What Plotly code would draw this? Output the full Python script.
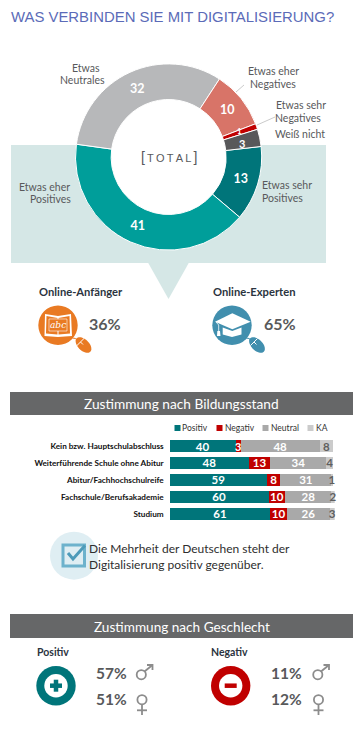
import numpy as np
import plotly.graph_objects as go

W, H = 358, 740

# Donut
donut_labels = ["Etwas sehr Positives", "Etwas eher Positives", "Etwas Neutrales",
                "Etwas eher Negatives", "Etwas sehr Negatives", "Weiß nicht"]
donut_values = [13, 41, 32, 10, 1, 3]
donut_colors = ["#00757A", "#009E9A", "#B7B8BA", "#D87468", "#C00000", "#58585A"]

# Education bars
edu_categories = ["Kein bzw. Hauptschulabschluss", "Weiterführende Schule ohne Abitur",
                  "Abitur/Fachhochschulreife", "Fachschule/Berufsakademie", "Studium"]
edu_positiv = [40, 48, 59, 60, 61]
edu_negativ = [3, 13, 8, 10, 10]
edu_neutral = [48, 34, 31, 28, 26]
edu_ka = [8, 4, 1, 2, 3]
edu_names = ["Positiv", "Negativ", "Neutral", "KA"]
edu_colors = ["#00757A", "#C00000", "#A9A9A9", "#CBCBCB"]
edu_text = ["white", "white", "white", "#5F5F5F"]

# Text values
online_labels = ["Online-Anfänger", "Online-Experten"]
online_values = ["36%", "65%"]
gender_heads = ["Positiv", "Negativ"]
gender_male = ["57%", "11%"]
gender_female = ["51%", "12%"]

FONT = "Lato"
fx = lambda x: x / W
fy = lambda y: 1 - y / H
shapes, annos = [], []


def path_of(pts, close=True):
    s = "M" + " L".join(f"{fx(x):.5f},{fy(y):.5f}" for x, y in pts)
    return s + (" Z" if close else "")


def poly(pts, fill, layer="above"):
    shapes.append(dict(type="path", xref="paper", yref="paper", path=path_of(pts), fillcolor=fill,
                       line=dict(width=0), layer=layer))


def line(pts, color, width=1, layer="above"):
    shapes.append(dict(type="path", xref="paper", yref="paper", path=path_of(pts, False),
                       line=dict(color=color, width=width), layer=layer))


def rect(x0, y0, x1, y1, fill, layer="above"):
    shapes.append(dict(type="rect", xref="paper", yref="paper", x0=fx(x0), x1=fx(x1), y0=fy(y1), y1=fy(y0),
                       fillcolor=fill, line=dict(width=0), layer=layer))


def circle(cx, cy, r, fill=None, stroke=None, width=0, layer="above"):
    shapes.append(dict(type="circle", xref="paper", yref="paper", x0=fx(cx - r), x1=fx(cx + r),
                       y0=fy(cy + r), y1=fy(cy - r), fillcolor=fill or "rgba(0,0,0,0)",
                       line=dict(color=stroke or "rgba(0,0,0,0)", width=width), layer=layer))


def text(x, y, s, size=11, color="#58595B", anchor="left", bold=False, font=FONT, italic=False):
    x = x - 1 if anchor == "left" else x
    annos.append(dict(xref="paper", yref="paper", x=fx(x), y=fy(y), text=f"<b>{s}</b>" if bold else s,
                      showarrow=False, xanchor=anchor, yanchor="middle", align=anchor,
                      font=dict(family=font, size=size, color=color, style="italic" if italic else "normal"),
                      borderpad=0))


def mouse(cx, cy, color):
    t = np.linspace(0, 2 * np.pi, 40)
    a, b = 9.6, 5.6
    c = np.cos(np.pi / 4)
    pts = [(cx + a * np.cos(v) * c - b * np.sin(v) * c, cy + a * np.cos(v) * c + b * np.sin(v) * c) for v in t]
    poly(pts, color)
    line([(cx - 6.5, cy + 0.5), (cx + 0.5, cy - 6.5)], "white", 1)
    line([(cx - 3, cy - 3), (cx - 0.5, cy - 0.5)], "white", 1)
    line([(cx - 11, cy - 7), (cx - 8, cy - 6.5), (cx - 6, cy - 5)], color, 1)


# ---- Title
text(10.5, 17, "WAS VERBINDEN SIE MIT DIGITALISIERUNG?", 14.9, "#5B6BB8", font="Liberation Sans")

# ---- Teal panel under donut
CX, CY, RO, RI = 168.6, 157, 93.1, 57.5
rect(11, 145, 326, 263, "#D5E7E6", "below")
poly([(148, 262.5), (189, 262.5), (168.5, 299)], "#D5E7E6", "below")
circle(CX, CY, RI, "white", layer="below")

# ---- Donut labels
for x, y, s in [(86, 68, "Etwas"), (82, 80.5, "Neutrales"),
                (273, 71.5, "Etwas eher"), (273, 83.5, "Negatives"),
                (301, 105.5, "Etwas sehr"), (298, 118.5, "Negatives"), (300, 134.5, "Weiß nicht"),
                (44.5, 186.5, "Etwas eher"), (50, 199.5, "Positives"),
                (287, 185.5, "Etwas sehr"), (282, 198.5, "Positives")]:
    text(x, y, s, 10.5, anchor="center")
line([(236, 92), (244, 85)], "#BDBDBD", 0.8)
line([(257, 125), (275, 117)], "#BDBDBD", 0.8)
text(168.5, 157, "<span style='font-size:14px'>[</span>&#8201;T&#8201;O&#8201;T&#8201;A&#8201;L&#8201;<span style='font-size:14px'>]</span>",
     11, "#58595B", "center", font="Liberation Sans")

# ---- Small donut slices: labels placed at the middle of their ring sector
ROTATION = 83.5
cum = np.cumsum([0] + donut_values)
for i, size, nudge in [(4, 8, -1), (5, 11, 1.5)]:
    ang = np.radians(ROTATION + (cum[i] + cum[i + 1]) / 2 * 3.6)
    text(CX + 75 * np.sin(ang), CY - 75 * np.cos(ang) + nudge, str(donut_values[i]), size, "white", "center", bold=True)

# ---- Online users
text(39, 291, online_labels[0], 11.2, "#2B3440", bold=True)
text(213, 291, online_labels[1], 11.2, "#2B3440", bold=True)
text(89, 323.5, online_values[0], 16, "#58595B", bold=True)
text(263.5, 323.5, online_values[1], 16, "#58595B", bold=True)

ORANGE, BLUE = "#E97A23", "#418FAE"
circle(58, 325.3, 19.7, ORANGE)
poly([(45, 314), (58, 316), (71, 314), (72, 336), (58, 337), (44.5, 336)], "white")
poly([(46.5, 316), (57.5, 318), (57.5, 334.5), (46, 333.5)], ORANGE)
poly([(58.5, 318), (69.5, 316), (70, 333.5), (58.5, 334.5)], ORANGE)
poly([(49, 319), (67, 319), (67, 331), (49, 331)], ORANGE)
line([(49, 319), (67, 319), (67, 331), (49, 331), (49, 319)], "white", 0.6)
text(58, 325, "abc", 9, "white", "center", italic=True, font="DejaVu Serif")
mouse(83.5, 345, ORANGE)

circle(232, 325.3, 19.7, BLUE)
poly([(215, 321.7), (232.3, 313.3), (250.7, 321.7), (232.3, 329.3)], "white")
poly([(222.7, 327.5), (232.3, 331), (241.5, 327.5), (241.5, 334.5), (232, 337), (222.7, 334.5)], "white")
line([(216, 322), (218.7, 325), (218.7, 332)], "white", 0.8)
poly([(217.3, 331), (220, 331), (220.5, 336), (217, 336)], "white")
mouse(257, 345, BLUE)

# ---- Header 1
rect(10, 392, 353, 415, "#666768")
text(181.5, 403.5, "Zustimmung nach Bildungsstand", 13.7, "white", "center")

# ---- Manual legend
for name, col, sx in zip(edu_names, edu_colors, [174.5, 216.5, 262.5, 307.5]):
    rect(sx, 425, sx + 6, 431, col)
    text(sx + 8, 428, name, 8.5, "#333333")

# ---- Callout
circle(74, 555.7, 24, "#DFEEF3", layer="below")
shapes.append(dict(type="rect", xref="paper", yref="paper", x0=fx(63), x1=fx(84.5), y0=fy(566), y1=fy(545),
                   fillcolor="rgba(0,0,0,0)", line=dict(color="#6DB2CC", width=3), layer="above"))
line([(68, 553), (73, 559), (85, 545.5)], "#4E9BB9", 3)
text(89.3, 548, "Die Mehrheit der Deutschen steht der", 12, "#2E2E2E")
text(89.3, 564, "Digitalisierung positiv gegenüber.", 12, "#2E2E2E")

# ---- Header 2
rect(10, 614, 353, 638, "#666768")
text(181.7, 626.5, "Zustimmung nach Geschlecht", 13.6, "white", "center")

# ---- Gender
TEAL, RED, GREY = "#00757A", "#C00000", "#8C8C8C"
for i, (dx, col) in enumerate([(0, TEAL), (175, RED)]):
    text(36.7 + (174.3 if i else 0), 651.7, gender_heads[i], 10.5, "#2B3440", bold=True)
    cx = 56 + dx - (0.3 if i else 0)
    circle(cx, 685.7, 19.7, col)
    circle(cx, 685.7, 11.7, "white")
    line([(cx - 6, 685.7), (cx + 6, 685.7)], col, 4.5)
    if i == 0:
        line([(cx, 679.7), (cx, 691.7)], col, 4.5)
    sx = 96.3 + (175 if i else 0)
    text(sx, 673, gender_male[i], 15.5, "#58595B", bold=True)
    text(sx, 699.3, gender_female[i], 15.5, "#58595B", bold=True)
    g = 176.5 if i else 0
    circle(141.3 + g, 674.7, 4.6, None, GREY, 1.8)
    line([(144.5 + g, 671.5), (152.5 + g, 665)], GREY, 1.8)
    line([(147 + g, 665), (152.5 + g, 665), (152.5 + g, 670)], GREY, 1.8)
    circle(142 + g, 699.7, 4.6, None, GREY, 1.8)
    line([(142 + g, 704.5), (142 + g, 715)], GREY, 1.8)
    line([(137 + g, 710.3), (147 + g, 710.3)], GREY, 1.8)

fig = go.Figure()

fig.add_trace(go.Pie(
    labels=donut_labels, values=donut_values, sort=False, direction="clockwise", rotation=ROTATION,
    hole=RI / RO, marker=dict(colors=donut_colors, line=dict(color="white", width=1)),
    texttemplate=["<b>%{value}</b>"] * 4 + ["", ""], textposition="inside", insidetextorientation="horizontal",
    insidetextfont=dict(family=FONT, size=12.5, color="white"),
    domain=dict(x=[fx(CX - RO), fx(CX + RO)], y=[fy(CY + RO), fy(CY - RO)]), showlegend=False,
    hoverinfo="label+value",
))

for name, vals, col, tc in zip(edu_names, [edu_positiv, edu_negativ, edu_neutral, edu_ka], edu_colors, edu_text):
    fig.add_trace(go.Bar(
        name=name, y=edu_categories, x=vals, orientation="h", marker=dict(color=col, line=dict(width=0)),
        text=[f"<b>{v}</b>" for v in vals], textposition="inside", insidetextanchor="middle",
        textangle=0, constraintext="none", textfont=dict(family=FONT, size=11.5, color=tc),
        cliponaxis=False, showlegend=False,
    ))

fig.update_layout(
    width=W, height=H, margin=dict(l=0, r=0, t=0, b=0), paper_bgcolor="white", plot_bgcolor="rgba(0,0,0,0)",
    barmode="stack", bargap=0.33, showlegend=False, shapes=shapes, annotations=annos,
    font=dict(family=FONT),
    xaxis=dict(domain=[fx(169.7), fx(334.7)], range=[0, 100], visible=False, fixedrange=True),
    yaxis=dict(domain=[fy(522.5), fy(437.5)], autorange="reversed", type="category", showline=False,
               showgrid=False, ticks="", ticklabelstandoff=5, fixedrange=True,
               tickfont=dict(family=FONT, size=8.2, color="#111111", weight="bold")),
)

fig.write_html("out.html", config=dict(displayModeBar=False),
               post_script="document.body.style.margin='0';")
